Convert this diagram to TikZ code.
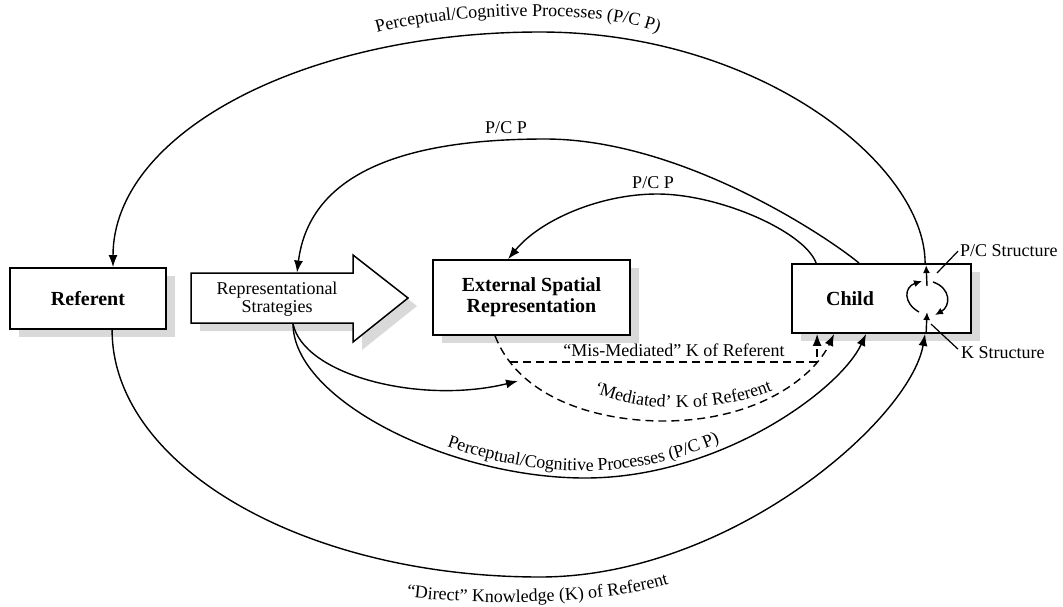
\documentclass[tikz,border=0pt]{standalone}
\usepackage{fontspec}
\setmainfont{Liberation Serif}
\usetikzlibrary{arrows.meta,calc,decorations.text}
\definecolor{shadowgray}{HTML}{D9D9D9}
\newcommand\lblfont{\fontsize{18}{18}\selectfont}
\newcommand\boxfont{\fontsize{20}{21}\selectfont\bfseries}
\begin{document}
\begin{tikzpicture}[x=1pt,y=-1pt,
  shadowed/.style={preaction={draw=none, fill=shadowgray, transform canvas={xshift=9pt,yshift=-8pt}}},
  box/.style={draw, line width=1.8pt, fill=white, inner sep=0pt, shadowed},
  conn/.style={line width=1.4pt, -{Latex[length=12pt,width=9pt]}},
  dconn/.style={conn, dash pattern=on 8pt off 5pt},
  small/.style={line width=1.4pt, -{Latex[length=8pt,width=7pt]}},
  leader/.style={line width=1.2pt},
  lbl/.style={font=\lblfont, inner sep=0pt},
  boxtext/.style={font=\boxfont, align=center, inner sep=0pt}
]
\useasboundingbox (0,0) rectangle (1063,606);

% boxes
\node[box, minimum width=156pt, minimum height=61pt, font=\boxfont] (Referent) at (88,298.5) {Referent};
\draw[line width=1.5pt, fill=white, shadowed] (191,273) -- (353,273) -- (353,255) -- (408,298) -- (353,342) -- (353,323) -- (191,323) -- cycle;
\node[lbl, align=center] (RS) at (277,299) {Representational\\Strategies};
\node[box, minimum width=197pt, minimum height=75pt, font=\boxfont, align=center] (ESR) at (531.5,297.5) {External Spatial\\Representation};
\node[box, minimum width=179pt, minimum height=69pt] (Child) at (881.5,298.5) {};
\node[boxtext] (ChildLbl) at (850,299) {Child};

% anchor points
\coordinate (refTop) at ($(Referent.north)+(25,0)$);
\coordinate (refBot) at ($(Referent.south west)+(103,0)$);
\coordinate (rsTop) at (297,272.5);
\coordinate (rsBot) at (293,323.5);
\coordinate (esrTop) at ($(ESR.north west)+(76,0)$);
\coordinate (esrBot) at ($(ESR.south west)+(63,0)$);
\coordinate (chTop1) at ($(Child.north west)+(25,0)$);
\coordinate (chTop2) at ($(Child.north west)+(68,0)$);
\coordinate (chTop3) at ($(Child.north west)+(134,0)$);
\coordinate (chBot1) at ($(Child.south west)+(26,0)$);
\coordinate (chBot2) at ($(Child.south west)+(43,0)$);
\coordinate (chBot3) at ($(Child.south west)+(75,0)$);
\coordinate (chBot4) at ($(Child.south west)+(134,0)$);
\coordinate (J) at (510,362);
\coordinate (brTip) at (518,381);

% top arcs
\draw[conn] (chTop3) .. controls (925,165) and (760,32) .. (540,32) .. controls (304,32) and (113,133) .. (refTop);
\draw[conn] (chTop2) .. controls (825,235) and (680,139) .. (545,139) .. controls (410,139) and (310,170) .. (rsTop);
\draw[conn] (chTop1) .. controls (805,232) and (720,194) .. (657,194) .. controls (600,194) and (540,220) .. (esrTop);

% bottom arcs
\draw[conn] (refBot) .. controls (112,466) and (304,577) .. (540,577) .. controls (730,577) and (910,420) .. (chBot4);
\draw[conn] (rsBot) .. controls (293,400) and (450,478) .. (585,478) .. controls (720,478) and (840,390) .. (chBot3);
\draw[conn] (rsBot) .. controls (303,375) and (420,405) .. (brTip);
\draw[dconn] (esrBot) .. controls (520,400) and (600,421) .. (663,421) .. controls (760,421) and (815,375) .. (chBot2);
\draw[dconn] (J) -- (J -| chBot1) -- (chBot1);

% inside child
\coordinate (kS) at (927,312);
\coordinate (pcS) at (927,286);
\draw[small] ($(Child.south west)+(135,0)$) -- (kS);
\draw[small] (pcS) -- ($(Child.north west)+(135,2)$);
\draw[small] (919,312) .. controls (903,303) and (904,287) .. (922,281);
\draw[small] (933,282) .. controls (951,288) and (951,306) .. (935,315);

% side labels
\node[lbl, anchor=base west] (PCS) at (960,256) {P/C Structure};
\node[lbl, anchor=base west] (KS) at (961,358) {K Structure};
\draw[leader] ($(PCS.west)+(-2,1)$) -- (937,273);
\draw[leader] ($(KS.west)+(-3,-3)$) -- (931,324);

% straight labels
\node[lbl, anchor=base] (pcpMid) at (506,133) {P/C P};
\node[lbl, anchor=base] (pcpIn) at (653,188) {P/C P};
\node[lbl, anchor=base] (mis) at (674,356) {“Mis-Mediated” K of Referent};

% curved labels
\path[decorate, decoration={text along path, text align=center, text={|\lblfont|Perceptual/Cognitive Processes (P/C P)}}]
  (370,35) .. controls (430,15) and (600,5) .. (665,35);
\path[decorate, decoration={text along path, text align=center, text={|\lblfont|‘Mediated’ K of Referent}}]
  (588,390) .. controls (640,414) and (720,414) .. (778,388);
\path[decorate, decoration={text along path, text align={center, left indent=24pt}, raise=7pt, text={|\lblfont|Perceptual/Cognitive Processes (P/C P)}}]
  (293,323) .. controls (293,400) and (450,478) .. (585,478) .. controls (720,478) and (840,390) .. (866,335);
\path[decorate, decoration={text along path, text align=center, text={|\lblfont|“Direct” Knowledge (K) of Referent}}]
  (400,596) .. controls (480,607) and (610,604) .. (675,582);
\end{tikzpicture}
\end{document}
